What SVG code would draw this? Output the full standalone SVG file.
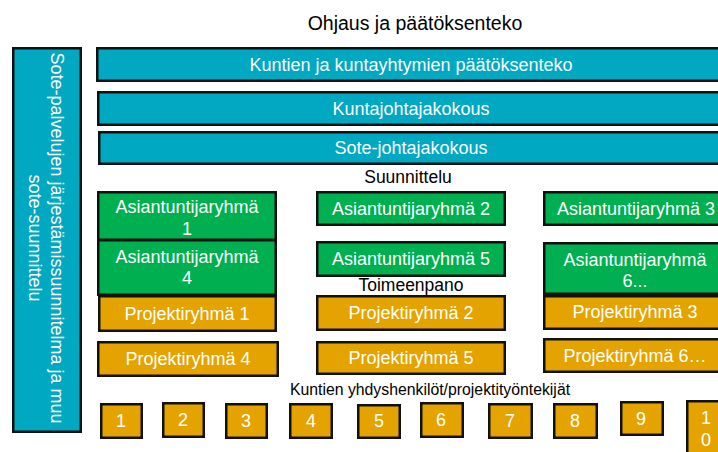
<svg xmlns="http://www.w3.org/2000/svg" width="718" height="452" viewBox="0 0 718 452">
<style>
.b{stroke:#111;stroke-width:2.5}
.teal{fill:#00A8C1}
.green{fill:#00B050}
.orange{fill:#E5A300}
text{font-family:"Liberation Sans",Arial,sans-serif}
.w{fill:#fff;font-size:18px;text-anchor:middle}
.k{fill:#000;text-anchor:middle}
</style>
<rect width="718" height="452" fill="#fff"/>
<text class="k" x="415" y="30" font-size="19.5">Ohjaus ja päätöksenteko</text>
<text class="k" x="408" y="183" font-size="17.5">Suunnittelu</text>
<text class="k" x="411" y="291" font-size="17.5">Toimeenpano</text>
<text class="k" x="430" y="395" font-size="15.8">Kuntien yhdyshenkilöt/projektityöntekijät</text>

<g id="left">
<rect class="b teal" x="13.25" y="48.25" width="67.5" height="383.5"/>
<text class="w" font-size="17" transform="translate(51,238) rotate(90)">Sote-palvelujen järjestämissuunnitelma ja muu</text>
<text class="w" font-size="17" transform="translate(29,238) rotate(90)">sote-suunnittelu</text>
</g>
<g id="bar1"><rect class="b teal" x="97.25" y="48.25" width="630" height="32.5"/><text class="w" x="411" y="71">Kuntien ja kuntayhtymien  päätöksenteko</text></g>
<g id="bar2"><rect class="b teal" x="98.25" y="92.25" width="630" height="32.5"/><text class="w" x="411" y="115">Kuntajohtajakokous</text></g>
<g id="bar3"><rect class="b teal" x="99.25" y="132.25" width="630" height="31.5"/><text class="w" x="411" y="154">Sote-johtajakokous</text></g>

<g id="a1"><rect class="b green" x="98.25" y="192.25" width="177.5" height="47.5"/><text class="w" x="187" y="213">Asiantuntijaryhmä</text><text class="w" x="187" y="235">1</text></g>
<g id="a4"><rect class="b green" x="98.25" y="240.25" width="177.5" height="54.5"/><text class="w" x="187" y="263">Asiantuntijaryhmä</text><text class="w" x="187" y="284">4</text></g>
<g id="p1"><rect class="b orange" x="99.25" y="296.25" width="176.5" height="34.5"/><text class="w" x="187" y="320">Projektiryhmä 1</text></g>
<g id="p4"><rect class="b orange" x="98.25" y="342.25" width="179.5" height="33.5"/><text class="w" x="188" y="365">Projektiryhmä 4</text></g>

<g id="a2"><rect class="b green" x="317.25" y="192.25" width="187.5" height="32.5"/><text class="w" x="411" y="215">Asiantuntijaryhmä 2</text></g>
<g id="a5"><rect class="b green" x="317.25" y="242.25" width="187.5" height="33.5"/><text class="w" x="411" y="265">Asiantuntijaryhmä 5</text></g>
<g id="p2"><rect class="b orange" x="317.25" y="296.25" width="187.5" height="33.5"/><text class="w" x="411" y="319">Projektiryhmä 2</text></g>
<g id="p5"><rect class="b orange" x="317.25" y="342.25" width="187.5" height="31.5"/><text class="w" x="411" y="364">Projektiryhmä 5</text></g>

<g id="a3"><rect class="b green" x="544.25" y="192.25" width="182" height="32.5"/><text class="w" x="636" y="215">Asiantuntijaryhmä 3</text></g>
<g id="a6"><rect class="b green" x="544.25" y="243.25" width="182" height="50.5"/><text class="w" x="635" y="266">Asiantuntijaryhmä</text><text class="w" x="635" y="287">6...</text></g>
<g id="p3"><rect class="b orange" x="544.25" y="296.25" width="182" height="32.5"/><text class="w" x="635" y="318">Projektiryhmä 3</text></g>
<g id="p6"><rect class="b orange" x="544.25" y="339.25" width="182" height="32.5"/><text class="w" x="635" y="362">Projektiryhmä 6…</text></g>

<g id="n1"><rect class="b orange" x="101.25" y="404.25" width="40.5" height="33.5"/><text class="w" x="121" y="427">1</text></g>
<g id="n2"><rect class="b orange" x="163.25" y="403.25" width="40.5" height="33.5"/><text class="w" x="183" y="426">2</text></g>
<g id="n3"><rect class="b orange" x="226.25" y="404.25" width="40.5" height="33.5"/><text class="w" x="246" y="427">3</text></g>
<g id="n4"><rect class="b orange" x="290.25" y="404.25" width="41.5" height="33.5"/><text class="w" x="311" y="427">4</text></g>
<g id="n5"><rect class="b orange" x="358.25" y="405.25" width="41.5" height="32.5"/><text class="w" x="379" y="427">5</text></g>
<g id="n6"><rect class="b orange" x="421.25" y="403.25" width="41.5" height="33.5"/><text class="w" x="441" y="426">6</text></g>
<g id="n7"><rect class="b orange" x="489.25" y="404.25" width="42.5" height="33.5"/><text class="w" x="510" y="427">7</text></g>
<g id="n8"><rect class="b orange" x="554.25" y="404.25" width="42.5" height="33.5"/><text class="w" x="575" y="427">8</text></g>
<g id="n9"><rect class="b orange" x="621.25" y="402.25" width="41.5" height="32.5"/><text class="w" x="641" y="425">9</text></g>
<g id="n10"><rect class="b orange" x="687.25" y="401.25" width="45" height="60"/><text class="w" x="706" y="424">1</text><text class="w" x="706" y="446">0</text></g>
</svg>
